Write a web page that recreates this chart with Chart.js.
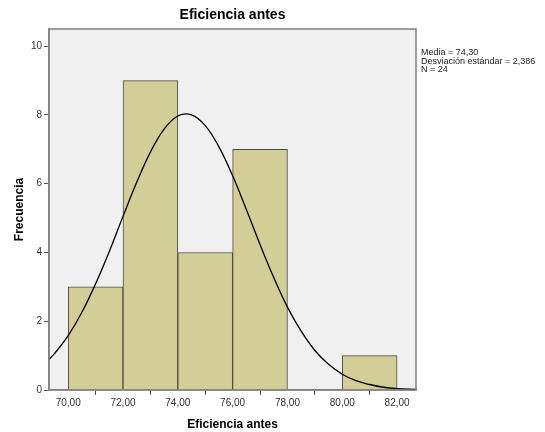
<!DOCTYPE html>
<html>
<head>
<meta charset="utf-8">
<script src="https://cdn.jsdelivr.net/npm/chart.js@4.4.1/dist/chart.umd.min.js"></script>
<style>
  html, body { margin: 0; padding: 0; background: #ffffff; }
  #wrap { width: 545px; height: 432px; }
</style>
</head>
<body>
<div id="wrap"><canvas id="histChart" width="545" height="432"></canvas></div>
<script>
// histogram bins (centres) and counts
const binCentres = [71, 73, 75, 77, 79, 81];
const binCounts = [3, 9, 4, 7, 0, 1];

// normal curve
const curveX = [69.3, 69.5, 70, 70.5, 71, 71.5, 72, 72.5, 73, 73.5, 74, 74.5, 75, 75.5, 76, 76.5, 77, 77.5, 78, 78.5, 79, 79.5, 80, 80.5, 81, 81.5, 82, 82.69];
const curveY = [0.89, 1.06, 1.58, 2.26, 3.09, 4.03, 5.05, 6.04, 6.92, 7.59, 7.97, 8.00, 7.69, 7.07, 6.23, 5.25, 4.23, 3.27, 2.41, 1.71, 1.15, 0.75, 0.46, 0.27, 0.16, 0.08, 0.04, 0.02];

const xTicks = [70, 72, 74, 76, 78, 80, 82];
const yTicks = [0, 2, 4, 6, 8, 10];

const chartTitle = 'Eficiencia antes';
const statsLines = ['Media = 74,30', 'Desviación estándar = 2,386', 'N = 24'];

const frameColor = '#808080';

const framePlugin = {
    id: 'frame',
    beforeDraw(chart) {
        const { ctx, chartArea: a } = chart;
        ctx.save();
        ctx.fillStyle = '#f0f0f0';
        ctx.fillRect(a.left, a.top, a.right - a.left, a.bottom - a.top);
        ctx.restore();
    },
    afterDraw(chart) {
        const { ctx, chartArea: a } = chart;
        ctx.save();
        ctx.strokeStyle = frameColor;
        ctx.lineWidth = 1.5;
        ctx.strokeRect(a.left, a.top, a.right - a.left, a.bottom - a.top);

        ctx.fillStyle = '#000';
        ctx.font = 'bold 14px "Liberation Sans", Arial, sans-serif';
        ctx.textAlign = 'center';
        ctx.textBaseline = 'middle';
        ctx.fillText(chartTitle, (a.left + a.right) / 2, 15);

        ctx.fillStyle = '#222';
        ctx.font = '9px "Liberation Sans", Arial, sans-serif';
        ctx.textAlign = 'left';
        ctx.textBaseline = 'middle';
        statsLines.forEach(function (line, i) {
            ctx.fillText(line, a.right + 5, 53 + i * 8.5);
        });
        ctx.restore();
    }
};

new Chart(document.getElementById('histChart'), {
    type: 'bar',
    data: {
        datasets: [{
            type: 'line',
            data: curveX.map(function (x, i) { return { x: x, y: curveY[i] }; }),
            borderColor: '#000',
            borderWidth: 1.3,
            pointRadius: 0,
            tension: 0.4,
            fill: false,
            order: 0
        }, {
            type: 'bar',
            data: binCentres.map(function (x, i) { return { x: x, y: binCounts[i] }; }),
            backgroundColor: '#d3ce98',
            borderColor: '#4a4a4a',
            borderWidth: 1,
            borderSkipped: 'bottom',
            barPercentage: 1,
            categoryPercentage: 1,
            order: 1
        }]
    },
    options: {
        responsive: false,
        animation: false,
        layout: {
            padding: { top: 29, right: 129, left: 0, bottom: 0 }
        },
        plugins: {
            legend: { display: false },
            tooltip: { enabled: false }
        },
        scales: {
            x: {
                type: 'linear',
                min: 69.3,
                max: 82.69,
                offset: false,
                afterBuildTicks: function (scale) {
                    scale.ticks = xTicks.map(function (v) { return { value: v }; });
                },
                afterFit: function (scale) { scale.height = 42; },
                grid: {
                    drawOnChartArea: false,
                    drawTicks: true,
                    tickLength: 5,
                    color: '#555'
                },
                border: { color: frameColor, width: 1.5 },
                ticks: {
                    autoSkip: false,
                    maxRotation: 0,
                    padding: 2,
                    color: '#333',
                    font: { family: '"Liberation Sans", Arial, sans-serif', size: 10 },
                    callback: function (v) { return v.toFixed(2).replace('.', ','); }
                },
                title: {
                    display: true,
                    text: 'Eficiencia antes',
                    color: '#000',
                    padding: { top: 4, bottom: 0 },
                    font: { family: '"Liberation Sans", Arial, sans-serif', size: 12, weight: 'bold' }
                }
            },
            y: {
                min: 0,
                max: 10.5,
                afterBuildTicks: function (scale) {
                    scale.ticks = yTicks.map(function (v) { return { value: v }; });
                },
                afterFit: function (scale) { scale.width = 49; },
                grid: {
                    drawOnChartArea: false,
                    drawTicks: true,
                    tickLength: 5,
                    color: '#555'
                },
                border: { color: frameColor, width: 1.5 },
                ticks: {
                    padding: 2,
                    color: '#333',
                    font: { family: '"Liberation Sans", Arial, sans-serif', size: 10 }
                },
                title: {
                    display: true,
                    text: 'Frecuencia',
                    color: '#000',
                    padding: { top: 12, bottom: 0 },
                    font: { family: '"Liberation Sans", Arial, sans-serif', size: 12, weight: 'bold' }
                }
            }
        }
    },
    plugins: [framePlugin]
});
</script>
</body>
</html>
